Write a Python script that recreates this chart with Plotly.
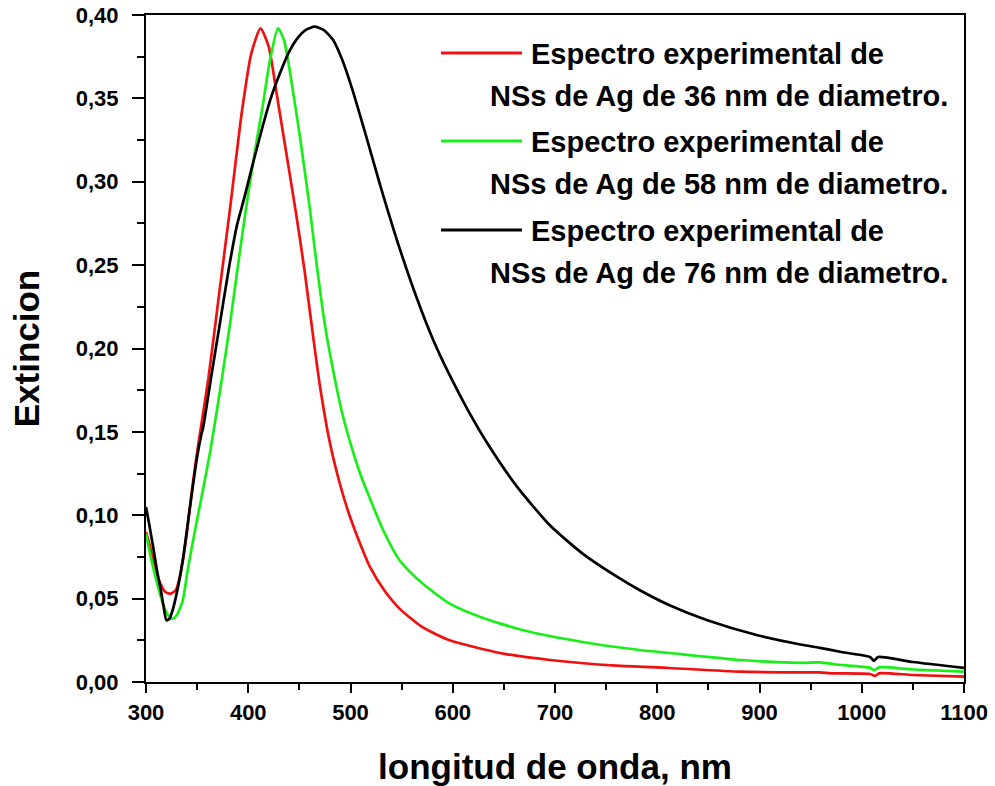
import plotly.graph_objects as go

# ---- data ----
wl_36 = [300, 304, 309, 314, 319, 324, 329, 333, 339, 346, 351, 361, 372, 382, 394, 403, 412,
         420, 428, 437, 447, 455, 462, 470, 480, 490, 499, 510, 519, 533, 548, 570, 597, 646,
         695, 760, 812, 881, 940, 959, 970, 1008, 1013, 1017, 1050, 1100]
ext_36 = [0.090, 0.081, 0.068, 0.059, 0.054, 0.053, 0.055, 0.063, 0.085, 0.120, 0.142, 0.182,
          0.235, 0.283, 0.343, 0.377, 0.392, 0.381, 0.352, 0.318, 0.280, 0.247, 0.214, 0.178,
          0.143, 0.118, 0.100, 0.082, 0.069, 0.055, 0.044, 0.033, 0.025, 0.0174, 0.0132, 0.0098,
          0.0084, 0.0062, 0.0058, 0.0058, 0.0052, 0.0048, 0.0036, 0.0052, 0.0042, 0.0032]

wl_58 = [300, 305, 311, 315, 319, 323, 326, 330, 336, 341, 348, 355, 363, 374, 382, 390, 399,
         407, 414, 421, 429, 435, 441, 451, 460, 467, 475, 483, 492, 501, 510, 519, 532, 548,
         565, 581, 597, 627, 669, 727, 783, 812, 881, 940, 959, 975, 1008, 1012, 1017, 1050, 1100]
ext_58 = [0.089, 0.074, 0.059, 0.050, 0.043, 0.039, 0.038, 0.040, 0.049, 0.068, 0.091, 0.113,
          0.139, 0.181, 0.214, 0.250, 0.289, 0.320, 0.345, 0.372, 0.392, 0.385, 0.365, 0.325,
          0.285, 0.250, 0.214, 0.187, 0.161, 0.141, 0.124, 0.110, 0.091, 0.073, 0.062, 0.054,
          0.047, 0.039, 0.031, 0.024, 0.0192, 0.0174, 0.0132, 0.0115, 0.0118, 0.0105, 0.0085,
          0.0070, 0.0088, 0.0075, 0.0062]

wl_76 = [300, 303, 307, 311, 314, 317, 320, 323, 326, 331, 336, 343, 350, 354, 356, 364, 372,
         381, 389, 396, 405, 414, 422, 431, 440, 448, 456, 465, 474, 483, 492, 502, 515, 529,
         547, 565, 581, 597, 614, 634, 663, 695, 727, 761, 783, 812, 849, 898, 940, 959, 980,
         1008, 1012, 1016, 1050, 1100]
ext_76 = [0.105, 0.095, 0.081, 0.066, 0.057, 0.046, 0.037, 0.038, 0.043, 0.056, 0.073, 0.105,
          0.135, 0.148, 0.153, 0.184, 0.214, 0.248, 0.274, 0.290, 0.312, 0.333, 0.350, 0.365,
          0.378, 0.386, 0.391, 0.393, 0.391, 0.385, 0.373, 0.355, 0.328, 0.298, 0.262, 0.230,
          0.205, 0.184, 0.164, 0.143, 0.117, 0.094, 0.077, 0.063, 0.055, 0.046, 0.037, 0.028,
          0.0225, 0.0205, 0.018, 0.015, 0.0127, 0.0150, 0.012, 0.0085]

x_ticks = [300, 400, 500, 600, 700, 800, 900, 1000, 1100]
x_tick_text = ["300", "400", "500", "600", "700", "800", "900", "1000", "1100"]
y_ticks = [0.00, 0.05, 0.10, 0.15, 0.20, 0.25, 0.30, 0.35, 0.40]
y_tick_text = ["0,00", "0,05", "0,10", "0,15", "0,20", "0,25", "0,30", "0,35", "0,40"]

series_names = ["Espectro experimental de", "Espectro experimental de", "Espectro experimental de"]
series_sub = ["NSs de Ag de 36 nm de diametro.", "NSs de Ag de 58 nm de diametro.",
              "NSs de Ag de 76 nm de diametro."]
series_colors = ["#f01010", "#19ee19", "#000000"]

FONT = "Liberation Sans, Arial, Helvetica, sans-serif"

fig = go.Figure()
for wl, ex, col, nm in zip([wl_36, wl_58, wl_76], [ext_36, ext_58, ext_76], series_colors, series_sub):
    fig.add_trace(go.Scatter(x=wl, y=ex, mode="lines", name=nm, showlegend=False,
                             line=dict(color=col, width=2.7, shape="spline", smoothing=0.6)))

# manual legend (two-line labels with hanging indent as in the reference)
L, R, T, B = 146, 31, 15, 104
W, H = 995 - L - R, 786 - T - B

def px(xp):
    return (xp - L) / W

def py(yp):
    return (786 - B - yp) / H

legend_rows = [53, 141, 230]
for row, col, n1, n2 in zip(legend_rows, series_colors, series_names, series_sub):
    fig.add_shape(type="line", xref="paper", yref="paper", x0=px(441), x1=px(522),
                  y0=py(row), y1=py(row), line=dict(color=col, width=3))
    fig.add_annotation(xref="paper", yref="paper", x=px(529), y=py(row + 1), text=n1,
                       showarrow=False, xanchor="left", yanchor="middle",
                       font=dict(family=FONT, size=29, color="black", weight="bold"))
    fig.add_annotation(xref="paper", yref="paper", x=px(488), y=py(row + 43), text=n2,
                       showarrow=False, xanchor="left", yanchor="middle",
                       font=dict(family=FONT, size=29, color="black", weight="bold"))

axis_common = dict(showline=True, linecolor="black", linewidth=2.2, mirror=True,
                   showgrid=False, zeroline=False, ticks="outside", tickcolor="black",
                   tickwidth=2, automargin=False)

fig.update_layout(
    width=995, height=786,
    margin=dict(l=L, r=R, t=T, b=B, autoexpand=False),
    paper_bgcolor="white", plot_bgcolor="white",
    font=dict(family=FONT, color="black"),
    xaxis=dict(range=[300, 1100], tickvals=x_ticks, ticktext=x_tick_text, ticklen=9,
               minor=dict(ticks="outside", ticklen=6, tickwidth=2, tickcolor="black", dtick=50),
               tickfont=dict(family=FONT, size=22, weight="bold"),
               title=dict(text="longitud de onda, nm", standoff=34,
                          font=dict(family=FONT, size=35, weight="bold")),
               **axis_common),
    yaxis=dict(range=[0, 0.40], tickvals=y_ticks, ticktext=y_tick_text, ticklen=12,
               minor=dict(ticks="outside", ticklen=7, tickwidth=2, tickcolor="black", dtick=0.025),
               tickfont=dict(family=FONT, size=22, weight="bold"),
               ticklabelstandoff=9,
               title=dict(text="Extincion", standoff=25,
                          font=dict(family=FONT, size=35, weight="bold")),
               **axis_common),
)

fig.write_html("out.html")
